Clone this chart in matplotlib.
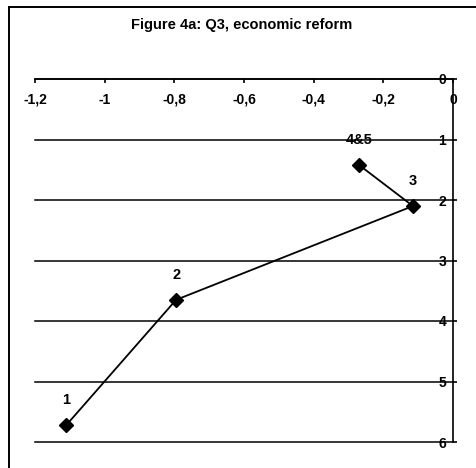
import matplotlib.pyplot as plt
from matplotlib.lines import Line2D

plt.rcParams['font.family'] = ['Liberation Sans', 'DejaVu Sans']

# points in the order they are joined
point_names = ["1", "2", "3", "4&5"]
x_vals = [-1.11, -0.795, -0.115, -0.27]
y_vals = [5.72, 3.65, 2.10, 1.42]

x_ticks = [-1.2, -1.0, -0.8, -0.6, -0.4, -0.2, 0.0]
x_tick_labels = ["-1,2", "-1", "-0,8", "-0,6", "-0,4", "-0,2", "0"]
y_ticks = [0, 1, 2, 3, 4, 5, 6]
y_tick_labels = ["0", "1", "2", "3", "4", "5", "6"]

fig = plt.figure(figsize=(4.77, 4.68), dpi=100)
ax = fig.add_axes([35 / 477, 26 / 468, 418 / 477, 363 / 468])

ax.plot(x_vals, y_vals, color='black', lw=1.3, marker='D', markersize=7,
        markerfacecolor='black', markeredgecolor='black', zorder=3)
for name, x, y in zip(point_names, x_vals, y_vals):
    ax.annotate(name, (x, y), xytext=(0, 13), textcoords='offset points',
                ha='center', va='bottom', fontsize=10.5, fontweight='bold')

ax.set_xlim(-1.2, 0)
ax.set_ylim(6, 0)

# axes cross at (0, 0): x axis along the top, y axis on the right
ax.spines['bottom'].set_position(('data', 0))
ax.spines['left'].set_position(('data', 0))
ax.spines['top'].set_visible(False)
ax.spines['right'].set_visible(False)
for s in ['bottom', 'left']:
    ax.spines[s].set_linewidth(1.2)

ax.set_xticks(x_ticks)
ax.set_xticklabels(x_tick_labels)
ax.set_yticks(y_ticks)
ax.set_yticklabels(y_tick_labels)
ax.tick_params(axis='x', direction='out', length=3, width=1.2, pad=7, labelsize=10)
ax.tick_params(axis='y', direction='in', length=3, width=1.2, pad=5, labelsize=10)
for lab in ax.get_xticklabels() + ax.get_yticklabels():
    lab.set_fontweight('bold')

ax.yaxis.grid(True, color='black', lw=1.1)
for gl in ax.yaxis.get_gridlines():
    gl.set_clip_on(False)
ax.set_axisbelow(True)
ax.patch.set_visible(False)

fig.text(242 / 477, 1 - 25 / 468, "Figure 4a: Q3, economic reform",
         ha='center', va='center', fontsize=10.5, fontweight='bold')

# frame of the scanned figure: left and top edges only
fy = 1 - 7 / 468
fx = 9 / 477
fig.add_artist(Line2D([fx, fx], [0, fy], transform=fig.transFigure,
                      color='black', lw=1.4))
fig.add_artist(Line2D([fx, 1], [fy, fy], transform=fig.transFigure,
                      color='black', lw=1.4))

fig.savefig('out.png', dpi=100)
